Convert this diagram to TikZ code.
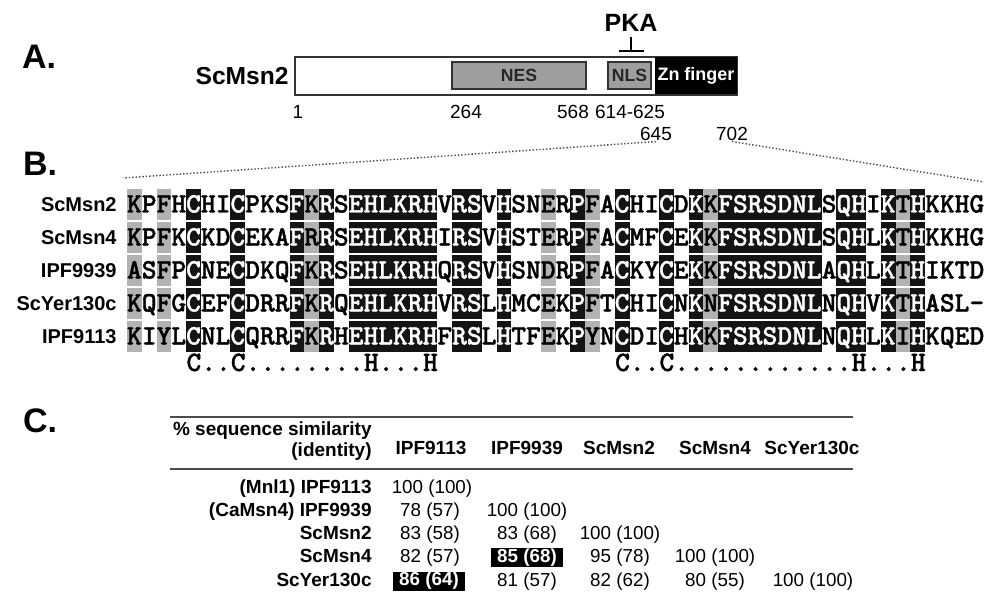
\documentclass[tikz,border=0pt]{standalone}
\usepackage{fontspec}
\setmainfont{Liberation Sans}
\newfontfamily\seqfont{lmmonolt10-bold}[Extension=.otf, FakeBold=1.2]
\usetikzlibrary{arrows.meta,positioning}

\begin{document}
\begin{tikzpicture}[
  x=0.5pt, y=-0.5pt,
  panel/.style={font=\fontsize{17}{20}\selectfont\bfseries, inner sep=0pt},
  protname/.style={font=\fontsize{12.3}{14}\selectfont\bfseries, inner sep=0pt, anchor=east},
  protbar/.style={draw=black!80, line width=1pt, fill=white, minimum width=221pt,
    minimum height=19pt, inner sep=0pt},
  dombox/.style={draw=black!80, line width=0.8pt, fill=black!38, minimum height=13.5pt,
    inner sep=0pt, font=\fontsize{8.8}{10}\selectfont\bfseries, text=black!85},
  znbox/.style={fill=black, text=white, minimum width=41pt, minimum height=18.5pt,
    inner sep=0pt, font=\fontsize{9}{10}\selectfont\bfseries},
  resnum/.style={font=\fontsize{9.5}{11}\selectfont, inner sep=0pt, anchor=base},
  zoomline/.style={black!70, line width=0.7pt, densely dotted},
  seqname/.style={font=\fontsize{10}{12}\selectfont\bfseries, inner sep=0pt, anchor=east},
  residue/.style={font=\seqfont\fontsize{14.08}{14}\selectfont, inner sep=0pt, anchor=base},
  blk/.style={fill=black!92},
  gry/.style={fill=black!30},
  tabrule/.style={black!70, line width=1pt},
  tabhead/.style={font=\fontsize{9.5}{11}\selectfont\bfseries, inner sep=0pt},
  tabval/.style={font=\fontsize{9.4}{11}\selectfont, inner sep=0pt, anchor=base},
  tabhi/.style={fill=black, text=white, font=\fontsize{9.4}{11}\selectfont\bfseries,
    minimum width=36pt, minimum height=9.5pt, inner sep=0pt}
]
\useasboundingbox (0,0) rectangle (984,593);

% A. domain map
\node[panel] (pA) at (39,57) {A.};
\node[protbar] (bar) at (516,76) {};
\node[protname] (nameA) at (289,76) {ScMsn2};
\node[dombox, minimum width=67pt] (nes) at (519,75.5) {NES};
\node[dombox, minimum width=21.5pt] (nls) at (629.5,75.5) {NLS};
\node[znbox] (zn) at (696,76) {Zn finger};
\node[font=\fontsize{12.5}{14}\selectfont\bfseries, inner sep=0pt] (pka) at (631,23) {PKA};
\coordinate (pkatip) at (631,52);
\draw[line width=1pt, -{Bar[width=12.5pt,line width=1pt]}] ([yshift=-2.5pt]pka.south) -- (pkatip);

\node[resnum] (r1) at (298,119) {1};
\node[resnum] (r264) at (466,119) {264};
\node[resnum] (r568) at (573,119) {568};
\node[resnum] (r614) at (630,119) {614-625};
\node[resnum] (r645) at (656,141) {645};
\node[resnum] (r702) at (732,141) {702};

\coordinate (alnL) at (123,178);
\coordinate (alnR) at (984,182);
\draw[zoomline] (r645.south) -- (alnL);
\draw[zoomline] (r702.south) -- (alnR);

% B. alignment
\node[panel] (pB) at (40,164) {B.};
% shaded columns
\foreach \a/\b in {5/5,8/8,12/12,14/14,16/21,23/24,26/26,31/31,34/34,37/37,39/39,41/47,49/50,52/52,54/54} {
  \foreach \r in {1,...,5}
    \fill[blk] ({127+(\a-1)*14.78},{188.8+33*(\r-1)}) rectangle ({127+\b*14.78},{220.2+33*(\r-1)});
  \foreach \col in {\a,...,\b} {\expandafter\xdef\csname blk\col\endcsname{1}}
}
\foreach \a in {1,3,13,29,32,40,53}
  \foreach \r in {1,...,5}
    \fill[gry] ({127+(\a-1)*14.78},{188.8+33*(\r-1)}) rectangle ({127+\a*14.78},{220.2+33*(\r-1)});

% residues
\foreach \nm/\seq [count=\r] in {
  ScMsn2/{K,P,F,H,C,H,I,C,P,K,S,F,K,R,S,E,H,L,K,R,H,V,R,S,V,H,S,N,E,R,P,F,A,C,H,I,C,D,K,K,F,S,R,S,D,N,L,S,Q,H,I,K,T,H,K,K,H,G},
  ScMsn4/{K,P,F,K,C,K,D,C,E,K,A,F,R,R,S,E,H,L,K,R,H,I,R,S,V,H,S,T,E,R,P,F,A,C,M,F,C,E,K,K,F,S,R,S,D,N,L,S,Q,H,L,K,T,H,K,K,H,G},
  IPF9939/{A,S,F,P,C,N,E,C,D,K,Q,F,K,R,S,E,H,L,K,R,H,Q,R,S,V,H,S,N,D,R,P,F,A,C,K,Y,C,E,K,K,F,S,R,S,D,N,L,A,Q,H,L,K,T,H,I,K,T,D},
  ScYer130c/{K,Q,F,G,C,E,F,C,D,R,R,F,K,R,Q,E,H,L,K,R,H,V,R,S,L,H,M,C,E,K,P,F,T,C,H,I,C,N,K,N,F,S,R,S,D,N,L,N,Q,H,V,K,T,H,A,S,L,-},
  IPF9113/{K,I,Y,L,C,N,L,C,Q,R,R,F,K,R,H,E,H,L,K,R,H,F,R,S,L,H,T,F,E,K,P,Y,N,C,D,I,C,H,K,K,F,S,R,S,D,N,L,N,Q,H,L,K,I,H,K,Q,E,D}} {
  \node[seqname] (n\r) at (117,{204.5+33*(\r-1)}) {\nm};
  \foreach \ch [count=\col] in \seq {
    \ifcsname blk\col\endcsname\def\rescol{white}\else\def\rescol{black}\fi
    \node[residue, text=\rescol] (s\r-\col) at ({127+(\col-0.5)*14.78},{212.5+33*(\r-1)}) {\ch};
  }
}
% consensus
\node[residue, anchor=base west] (cons1) at ({127+4*14.78},371) {C..C........H...H};
\node[residue, anchor=base west] (cons2) at ({127+33*14.78},371) {C..C............H...H};

% C. similarity table
\node[panel] (pC) at (40,421) {C.};
\draw[tabrule] (170,417) -- (853,417);
\draw[tabrule] (170,469) -- (853,469);
\node[tabhead, anchor=base east] (hsim) at (372,435) {\% sequence similarity};
\node[tabhead, anchor=base east] (hid) at (372,456) {(identity)};
\foreach \x/\t [count=\k] in {431/IPF9113, 527/IPF9939, 619/ScMsn2, 715/ScMsn4, 812/ScYer130c}
  \node[tabhead, anchor=base] (col\k) at (\x,454) {\t};
\foreach \t [count=\k] in {{(Mnl1) IPF9113}, {(CaMsn4) IPF9939}, ScMsn2, ScMsn4, ScYer130c}
  \node[tabhead, anchor=base east] (row\k) at (372,{493+23.25*(\k-1)}) {\t};
\foreach \x/\k/\v [count=\i] in {432/1/{100 (100)}, 430/2/{78 (57)}, 527/2/{100 (100)},
    430/3/{83 (58)}, 527/3/{83 (68)}, 620/3/{100 (100)},
    430/4/{82 (57)}, 620/4/{95 (78)}, 715/4/{100 (100)},
    527/5/{81 (57)}, 620/5/{82 (62)}, 715/5/{80 (55)}, 813/5/{100 (100)}}
  \node[tabval] (v\i) at (\x,{493+23.25*(\k-1)}) {\v};
\node[tabhi] (hi1) at (429,581) {86 (64)};
\node[tabhi] (hi2) at (527,557.5) {85 (68)};
\end{tikzpicture}
\end{document}
